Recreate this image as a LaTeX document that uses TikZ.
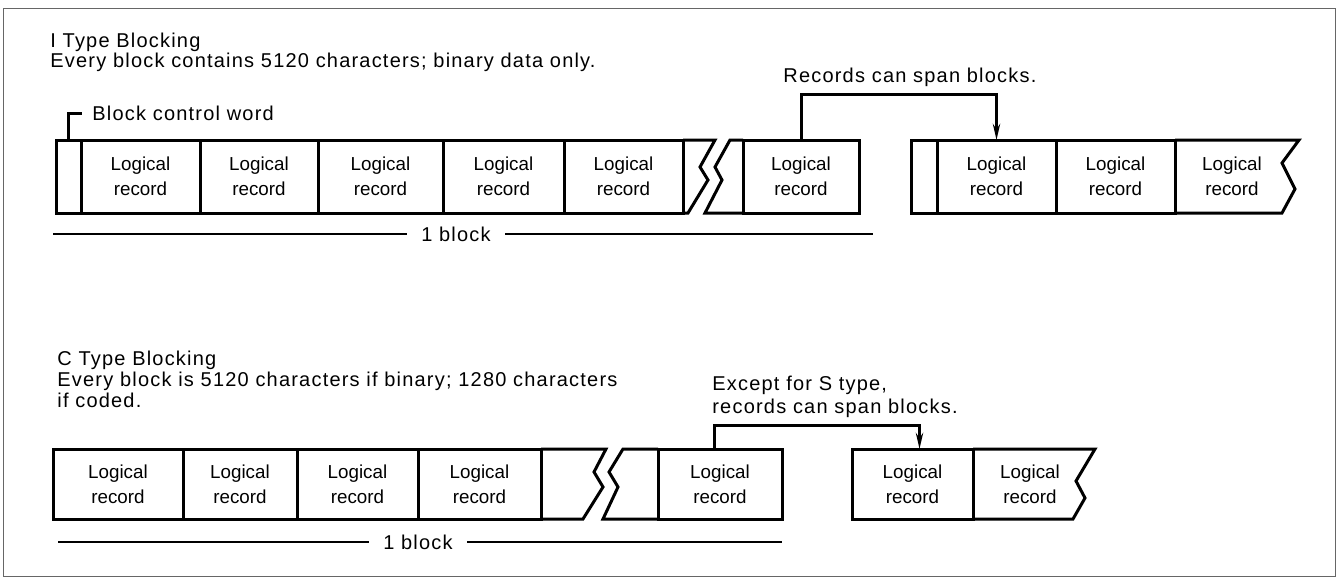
\documentclass[tikz,border=0pt]{standalone}
\usepackage{fontspec}
\setmainfont{Liberation Sans}
\newfontfamily\spacedfont[LetterSpace=6]{Liberation Sans}
\usetikzlibrary{arrows.meta}

\newcommand{\headtext}{\spacedfont\fontsize{10pt}{11pt}\selectfont}
\newcommand{\celltext}{\fontsize{9.4pt}{12.5pt}\selectfont}

\begin{document}
\begin{tikzpicture}[x=0.5pt,y=-0.5pt,
  edge/.style={line width=1.5pt, line join=miter},
  cell/.style={draw, line width=1.5pt, inner sep=0pt, outer sep=0pt,
    minimum width={#1*0.5pt}, align=center, font=\celltext},
  toprow/.style={cell=#1, minimum height=36.5pt},
  botrow/.style={cell=#1, minimum height=35pt},
  lbl/.style={inner sep=0pt, anchor=base west, font=\headtext},
  celllbl/.style={inner sep=0pt, align=center, font=\celltext},
  span/.style={line width=1.5pt, -{Stealth[length=8pt,width=3.6pt]}},
  measure/.style={line width=1.3pt},
  blk/.style={inner xsep=7pt, inner ysep=0pt, font=\headtext}
]
\useasboundingbox (0,0) rectangle (1339,578);
\draw[line width=0.5pt, black!60] (3,8) rectangle (1335,576);

% ---------------- I type blocking ----------------
\node[lbl] (ihead) at (50,47) {I Type Blocking};
\node[lbl] (idesc) at (50,67) {Every block contains 5120 characters; binary data only.};

% first block
\node[toprow=25]  (t0) at (68.5,176.5) {};
\node[toprow=119] (t1) at (140.5,176.5) {Logical\\record};
\node[toprow=118] (t2) at (259,176.5) {Logical\\record};
\node[toprow=125] (t3) at (380.5,176.5) {Logical\\record};
\node[toprow=121] (t4) at (503.5,176.5) {Logical\\record};
\node[toprow=119] (t5) at (623.5,176.5) {Logical\\record};
\draw[edge] (683,140) -- (715,140) -- (700,167) -- (708,180) -- (688,213) -- (683,213);
\draw[edge] (743,140) -- (730,140) -- (715,167) -- (722,180) -- (705,213) -- (743,213);
\node[toprow=116] (t6) at (801,176.5) {Logical\\record};

% second block
\node[toprow=26]  (t7) at (924,176.5) {};
\node[toprow=119] (t8) at (996.5,176.5) {Logical\\record};
\node[toprow=119] (t9) at (1115.5,176.5) {Logical\\record};
\draw[edge] (1175,140) -- (1299,140) -- (1282,163) -- (1295,189) -- (1282,213) -- (1175,213);
\node[celllbl] (t10) at (1232,176.5) {Logical\\record};

% block control word callout
\node[lbl] (bcw) at (92,120) {Block control word};
\coordinate (bcwend) at (82,113);
\draw[line width=1.5pt] (t0.north) |- (bcwend);

% spanning record
\node[lbl] (ispan) at (783,82) {Records can span blocks.};
\coordinate (itop) at (900,94);
\draw[span] (t6.north) |- (itop) -| (t8.north);

% block length
\coordinate (il) at (53,234);
\coordinate (ir) at (873,234);
\node[blk] (iblk) at (456,234) {1 block};
\draw[measure] (il) -- (iblk);
\draw[measure] (iblk) -- (ir);

% ---------------- C type blocking ----------------
\node[lbl] (chead) at (57,365) {C Type Blocking};
\node[lbl] (cdesc1) at (57,386) {Every block is 5120 characters if binary; 1280 characters};
\node[lbl] (cdesc2) at (57,407) {if coded.};

% first block
\node[botrow=130] (b1) at (118,484) {Logical\\record};
\node[botrow=114] (b2) at (240,484) {Logical\\record};
\node[botrow=121] (b3) at (357.5,484) {Logical\\record};
\node[botrow=123] (b4) at (479.5,484) {Logical\\record};
\draw[edge] (541,449) -- (606,449) -- (594,472) -- (603,487) -- (583,519) -- (541,519);
\draw[edge] (658,449) -- (623,449) -- (609,472) -- (618,487) -- (603,519) -- (658,519);
\node[botrow=124] (b5) at (720,484) {Logical\\record};

% second block
\node[botrow=121] (b6) at (912.5,484) {Logical\\record};
\draw[edge] (973,449) -- (1095,449) -- (1076,481) -- (1085,498) -- (1073,519) -- (973,519);
\node[celllbl] (b7) at (1030,484) {Logical\\record};

% spanning record
\node[lbl] (cspan1) at (712,390) {Except for S type,};
\node[lbl] (cspan2) at (712,413) {records can span blocks.};
\coordinate (ctop) at (820,425);
\draw[span] ([xshift=-3pt]b5.north) |- (ctop) -| ([xshift=3.5pt]b6.north);

% block length
\coordinate (cl) at (58,542);
\coordinate (cr) at (782,542);
\node[blk] (cblk) at (418,542) {1 block};
\draw[measure] (cl) -- (cblk);
\draw[measure] (cblk) -- (cr);
\end{tikzpicture}
\end{document}
